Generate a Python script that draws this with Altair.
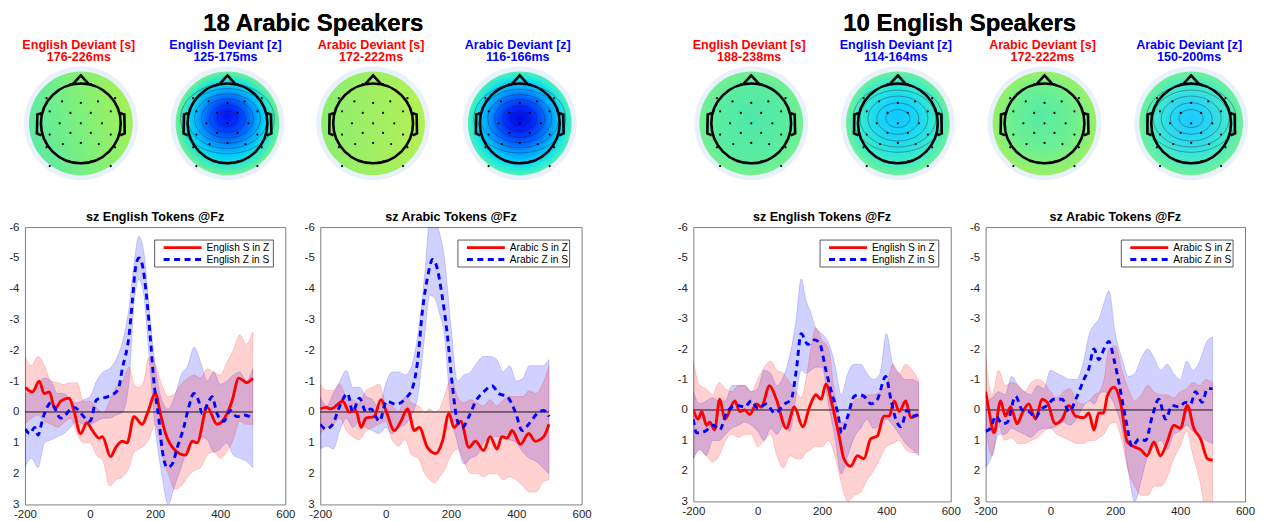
import altair as alt
import pandas as pd

FONT = "Liberation Sans"
RED = "#ff0000"
BLUE = "#0000ff"

# ---------------- text ----------------
GROUP_TITLES = ["18 Arabic Speakers", "10 English Speakers"]
TOPO_LINE1 = ["English Deviant [s]", "English Deviant [z]", "Arabic Deviant [s]", "Arabic Deviant [z]",
              "English Deviant [s]", "English Deviant [z]", "Arabic Deviant [s]", "Arabic Deviant [z]"]
TOPO_LINE2 = ["176-226ms", "125-175ms", "172-222ms", "116-166ms",
              "188-238ms", "114-164ms", "172-222ms", "150-200ms"]
TOPO_TEXT_COLORS = [RED, BLUE, RED, BLUE, RED, BLUE, RED, BLUE]
PANEL_TITLES = ["sz English Tokens @Fz", "sz Arabic Tokens @Fz", "sz English Tokens @Fz", "sz Arabic Tokens @Fz"]
LEGEND_LABELS = [("English S in Z", "English Z in S"), ("Arabic S in Z", "Arabic Z in S"),
                 ("English S in Z", "English Z in S"), ("Arabic S in Z", "Arabic Z in S")]

# axis ticks
X_TICKS = [-200, 0, 200, 400, 600]
Y_TICKS = [-6, -5, -4, -3, -2, -1, 0, 1, 2, 3]
ZERO_T = [-200, 500]
ZERO_V = [0, 0]

# ---------------- topomap data (head units: head radius = 1) ----------------
ELEC_X = [-0.26, 0.25, -0.86, -0.47, 0.0, 0.43, 0.86, -0.78, -0.26, 0.25, 0.75, -0.53, 0.0, 0.53,
          -0.78, -0.26, 0.25, 0.75, -0.45, 0.0, 0.45, -0.86, 0.86, -0.35, 0.25, -0.78, 0.75]
ELEC_Y = [0.98, 0.98, 0.63, 0.55, 0.51, 0.55, 0.63, 0.3, 0.26, 0.26, 0.3, 0.0, 0.0, 0.0,
          -0.28, -0.24, -0.24, -0.28, -0.52, -0.49, -0.52, -0.6, -0.6, -0.95, -0.95, -1.07, -1.07]


def rad(stops, cx=0.5, cy=0.45):
    return {"gradient": "radial", "x1": cx, "y1": cy, "r1": 0, "x2": 0.5, "y2": 0.5, "r2": 0.5,
            "stops": [{"offset": o, "color": c} for o, c in stops]}


def lin(stops, x1, y1, x2, y2):
    return {"gradient": "linear", "x1": x1, "y1": y1, "x2": x2, "y2": y2,
            "stops": [{"offset": o, "color": c} for o, c in stops]}


TOPO_FILLS = [
    lin([(0, "#5eeaa0"), (0.45, "#7ef07c"), (1, "#a8f052")], 0, 0.4, 1, 0.15),
    rad([(0, "#0a14e8"), (0.2, "#0030ff"), (0.4, "#0068ff"), (0.55, "#00a0ff"), (0.7, "#00d0f8"),
         (0.85, "#30e8c8"), (1, "#70f090")], cy=0.42),
    lin([(0, "#8cee70"), (1, "#b4f056")], 0, 0.5, 1, 0.5),
    rad([(0, "#0008e0"), (0.25, "#0028ff"), (0.45, "#0060ff"), (0.6, "#0098ff"), (0.75, "#00c8ff"),
         (0.88, "#20e8e0"), (1, "#50f0b0")], cy=0.45),
    rad([(0, "#4ee8ac"), (0.7, "#5aeca0"), (1, "#74f090")], cy=0.45),
    rad([(0, "#10c8ff"), (0.35, "#18d4f8"), (0.6, "#28e4e0"), (0.85, "#48ecc0"), (1, "#70f098")], cy=0.42),
    rad([(0, "#56eaa6"), (0.6, "#6cf092"), (1, "#9af068")], cx=0.45, cy=0.4),
    rad([(0, "#1cc8ff"), (0.4, "#2ad8f0"), (0.7, "#40e8d0"), (1, "#70f098")], cy=0.45),
]
CONTOUR_R = [[], [10, 18, 26, 33, 40, 47], [], [9, 17, 25, 32, 39, 46],
             [], [12, 21, 30, 38, 45], [], [12, 21, 30, 38, 45]]

HEAD_PATH = ("M 0 -1 A 1 1 0 1 1 0 1 A 1 1 0 1 1 0 -1 Z "
             "M -0.2 -0.98 L 0 -1.2 L 0.2 -0.98 "
             "M -0.99 -0.25 L -1.09 -0.22 L -1.1 0.25 L -0.99 0.3 "
             "M 0.99 -0.25 L 1.09 -0.22 L 1.1 0.25 L 0.99 0.3")
ELLIPSE_PATH = "M -1 0 A 1 0.75 0 1 1 1 0 A 1 0.75 0 1 1 -1 0 Z"

# ---------------- ERP data ----------------
BAND_T = [-200, -180, -160, -140, -120, -100, -80, -60, -40, -20, 0, 20, 40, 60, 80, 100,
          120, 135, 150, 165, 180,
          200, 220, 240, 260, 280, 300, 320, 340, 360, 380, 400, 420, 440, 460, 480, 500]

# Panel 1: Arabic speakers, English tokens
P1_RED_T = [-200, -177, -156, -141, -125, -108, -90, -64, -51, -29, -10, 7, 28, 38, 63, 79, 99, 114, 135, 160, 176,
            201, 216, 232, 262, 293, 314, 329, 360, 390, 421, 436, 457, 482, 500]
P1_RED_V = [-0.8, -0.65, -1.0, -0.6, -0.65, -0.1, -0.35, -0.45, -0.1, 0.7, 0.35, 0.6, 0.85, 0.8, 1.45, 1.15, 0.95, 1.0,
            0.15, 0.4, 0.05, -0.6, 0.05, 0.7, 1.25, 1.4, 0.95, 1.0, -0.15, 0.4, 0.05, -0.35, -1.1, -0.95, -1.1]
P1_BLUE_T = [-200, -185, -170, -160, -145, -120, -90, -50, 0, 20, 55, 85, 100, 120, 130, 140, 150, 160, 175, 186,
             196, 211, 222, 237, 252, 268, 288, 303, 319, 334, 344, 365, 375, 390, 411, 431, 451, 472, 500]
P1_BLUE_V = [0.55, 0.7, 0.5, 0.75, 0.2, -0.3, 0.2, -0.15, 0.3, -0.4, -0.5, -0.7, -1.45, -2.5, -3.6, -4.7, -5.0, -4.8,
             -3.6, -2.3, -1.0, 0.2, 1.25, 1.8, 1.7, 1.15, 0.5, -0.15, -0.6, -0.35, 0.05, -0.35, -0.5, 0.05, 0.3,
             -0.05, 0.15, 0.1, 0.2]
P1_RED_HI = [-1.8, -1.5, -1.8, -1.5, -1.0, -0.95, -0.9, -0.95, -0.95, -0.35, -0.35, -0.15, 0.05, -0.35, -0.8, -1.0,
             -1.45, -0.9, -0.8, -1.0, -1.75,
             -1.55, -0.9, -0.5, -0.6, -0.9, -1.1, -1.2, -1.1, -1.4, -1.3, -1.2, -1.6, -2.0, -2.5, -2.2, -2.6]
P1_RED_LO = [0.4, 0.2, 0.1, 0.3, 0.4, 0.5, 0.35, 0.2, 0.7, 1.0, 1.0, 1.4, 1.6, 2.4, 2.2, 2.1,
             1.8, 1.3, 1.2, 1.1, 0.9,
             0.4, 1.3, 2.0, 2.5, 2.4, 2.1, 1.9, 1.8, 1.4, 1.3, 1.5, 1.3, 0.9, 0.3, 0.4, 0.4]
P1_BLUE_HI = [-0.6, -0.6, -0.9, -1.1, -1.0, -0.6, -0.6, -0.4, -0.3, -0.4, -0.5, -1.0, -1.3, -1.4, -1.7, -2.3,
              -3.4, -4.8, -5.7, -5.2, -3.6,
              -1.5, -0.4, -0.1, -0.5, -1.2, -1.5, -2.1, -1.6, -1.0, -1.3, -0.9, -1.0, -1.2, -1.3, -1.0, -1.4]
P1_BLUE_LO = [1.8, 1.5, 1.8, 1.0, 0.9, 0.8, 0.7, 0.5, 0.3, 0.4, 0.4, 0.3, 0.2, 0.2, 0.1, 0.0,
              -1.0, -3.5, -4.3, -3.8, -2.0,
              0.5, 2.0, 3.0, 2.4, 1.8, 1.2, 1.0, 0.8, 0.9, 1.3, 1.2, 1.0, 1.4, 1.5, 1.6, 1.8]

# Panel 2: Arabic speakers, Arabic tokens
P2_RED_T = [-200, -183, -167, -131, -111, -91, -75, -60, -35, -14, 1, 27, 47, 67, 88, 103, 128, 154, 174, 194, 209,
            230, 255, 275, 300, 320, 341, 356, 372, 387, 413, 438, 458, 484, 500]
P2_RED_V = [-0.1, -0.15, -0.1, -0.35, 0.0, -0.05, 0.5, 0.2, 0.15, -0.4, -0.05, 0.6, 0.3, -0.1, 0.6, 0.5, 1.15, 1.35,
            0.95, 0.05, 0.5, 0.3, 1.15, 0.95, 1.25, 0.8, 1.2, 0.8, 0.85, 0.6, 1.05, 0.7, 0.95, 0.8, 0.4]
P2_BLUE_T = [-200, -183, -162, -142, -116, -101, -80, -60, -45, -19, 3, 32, 62, 83, 98, 113, 128, 144, 154, 174,
             189, 205, 220, 235, 255, 276, 300, 326, 346, 372, 397, 418, 438, 464, 484, 500]
P2_BLUE_V = [0.4, 0.55, 0.4, -0.15, -0.6, 0.0, -0.45, 0.0, -0.1, 0.3, -0.35, -0.25, -0.45, -0.8, -1.65, -3.3, -4.35,
             -4.95, -4.8, -3.7, -2.5, -0.8, 0.3, 0.5, 0.15, -0.35, -0.65, -0.85, -0.6, -0.5, 0.0, 0.6, 0.4, 0.05,
             -0.05, 0.15]
P2_RED_HI = [-0.9, -0.7, -0.7, -0.9, -0.5, -0.4, -0.3, -0.7, -0.8, -0.9, -0.3, -0.2, 0.0, -0.5, -0.3, -0.2,
             0.0, -0.1, 0.0, -0.1, -0.5,
             -1.1, -0.5, -0.3, -0.4, -0.3, -0.2, -0.4, -0.2, -0.4, -0.5, -0.5, -0.5, -0.7, -0.6, -0.9, -1.5]
P2_RED_LO = [0.7, 0.5, 0.4, 0.2, 0.6, 0.8, 0.9, 0.6, 0.5, 0.4, 0.3, 0.9, 1.1, 0.9, 1.4, 1.5,
             2.0, 2.2, 2.3, 2.1, 1.9,
             1.4, 1.2, 1.6, 2.0, 2.0, 2.1, 2.0, 2.0, 2.2, 2.1, 2.2, 2.4, 2.6, 2.6, 2.3, 2.2]
P2_BLUE_HI = [-0.5, -0.2, -0.6, -1.0, -1.35, -0.8, -0.8, -0.5, -0.4, -0.1, -0.9, -1.3, -1.3, -1.2, -1.5, -2.6,
              -4.5, -6.2, -6.3, -5.8, -5.0,
              -2.8, -1.0, -1.2, -1.3, -1.6, -1.8, -1.8, -1.7, -1.3, -1.5, -1.0, -1.1, -1.5, -1.5, -1.5, -1.7]
P2_BLUE_LO = [1.2, 1.1, 1.2, 0.6, 0.2, 0.5, 0.3, 0.5, 0.6, 0.7, 0.5, 0.7, 0.5, 0.4, 0.1, -0.6,
              -2.5, -3.8, -3.7, -3.2, -2.5,
              0.0, 1.0, 1.7, 1.5, 1.4, 1.0, 0.8, 0.8, 0.8, 0.9, 1.0, 1.3, 1.5, 1.6, 1.8, 2.0]

# Panel 3: English speakers, English tokens
P3_RED_T = [-200, -185, -174, -159, -149, -134, -118, -102, -71, -56, -40, -25, -4, 11, 37, 58, 89, 114, 140, 161,
            181, 197, 212, 233, 253, 268, 289, 310, 330, 351, 372, 392, 409, 424, 440, 460, 476, 500]
P3_RED_V = [0.0, 0.3, 0.05, 0.5, 0.4, 0.65, -0.35, 0.3, -0.3, 0.05, 0.0, 0.15, -0.2, -0.1, -0.8, -0.35, 0.6, -0.1,
            0.55, -0.1, -0.5, -0.35, -0.85, -0.1, 0.85, 1.6, 1.85, 1.5, 1.6, 0.95, 0.85, 0.2, 0.2, -0.3, 0.05,
            -0.3, 0.25, 0.15]
P3_BLUE_T = [-200, -190, -164, -138, -118, -97, -66, -40, -20, 1, 27, 53, 84, 104, 120, 135, 156, 176, 192, 212,
             233, 249, 261, 280, 300, 316, 336, 352, 372, 398, 414, 429, 445, 465, 481, 500]
P3_BLUE_V = [0.3, 0.75, 0.7, 0.5, 0.65, 0.1, -0.15, -0.1, -0.3, -0.05, -0.2, 0.1, -0.2, -0.35, -1.3, -2.5, -2.15,
             -2.3, -2.2, -1.3, -0.45, 0.1, 0.75, 0.2, -0.45, -0.5, -0.4, -0.2, -0.35, -1.1, -0.35, 0.3, 0.55, 0.0,
             0.2, 0.15]
P3_RED_HI = [-1.6, -0.8, -0.7, -0.5, -0.9, -0.7, -0.6, -0.8, -0.8, -0.6, -1.0, -1.4, -1.6, -1.3, -1.2, -0.9,
             -0.6, -0.4, -1.0, -2.0, -2.7,
             -2.3, -2.0, -0.5, 0.4, 0.3, -0.3, -0.4, -0.5, -0.5, -0.6, -0.8, -1.5, -1.2, -1.5, -1.3, -1.0]
P3_RED_LO = [1.6, 1.3, 1.5, 1.7, 1.5, 1.0, 0.8, 0.9, 0.8, 0.8, 1.2, 1.0, 0.8, 1.5, 1.9, 1.5,
             1.6, 1.6, 1.4, 1.3, 1.2,
             1.2, 1.0, 1.5, 2.4, 3.0, 2.8, 2.7, 2.3, 2.0, 1.6, 1.2, 1.1, 1.0, 1.3, 1.4, 1.4]
P3_BLUE_HI = [-0.6, -0.2, -0.3, -0.4, -0.3, -0.3, -0.8, -0.8, -0.8, -0.6, -0.7, -1.3, -1.2, -0.8, -1.1, -1.8,
              -3.0, -4.3, -3.6, -3.2, -2.7,
              -2.5, -2.2, -1.5, -0.5, -1.2, -1.5, -1.5, -1.2, -1.0, -1.2, -2.5, -1.5, -1.2, -1.0, -1.0, -0.9]
P3_BLUE_LO = [1.6, 1.3, 1.5, 1.0, 1.0, 0.8, 0.6, 0.5, 0.4, 0.5, 0.7, 1.0, 0.6, 0.8, 0.5, 0.7,
              -0.5, -1.3, -1.2, -1.3, -1.4,
              -1.4, -0.2, 0.9, 2.1, 1.5, 0.9, 0.6, 0.3, 0.6, 0.5, 0.3, 0.5, 0.8, 1.1, 1.3, 1.5]

# Panel 4: English speakers, Arabic tokens
P4_RED_T = [-200, -190, -174, -154, -139, -123, -103, -87, -67, -46, -26, -10, 15, 36, 57, 77, 103, 118, 134, 149,
            164, 175, 196, 216, 237, 257, 278, 298, 319, 339, 360, 380, 401, 422, 442, 463, 484, 500]
P4_RED_V = [-0.6, 0.0, 0.75, -0.3, 0.2, -0.1, 0.45, 0.1, -0.2, 0.3, -0.35, -0.25, 0.45, 0.3, -0.15, 0.2, 0.25, 0.1,
            0.65, 0.1, 0.1, -0.45, -0.75, -0.25, 1.05, 1.2, 1.3, 1.5, 1.05, 1.5, 1.05, 0.5, 0.6, -0.15, 0.6, 0.95,
            1.6, 1.65]
P4_BLUE_T = [-200, -185, -169, -149, -133, -108, -87, -67, -46, -31, -10, 10, 36, 57, 82, 103, 118, 134, 149, 165,
             180, 196, 211, 232, 252, 273, 293, 314, 334, 355, 375, 396, 416, 432, 447, 468, 484, 500]
P4_BLUE_V = [0.7, 0.6, 0.2, 0.45, 0.4, -0.45, 0.0, 0.05, 0.25, 0.0, -0.15, -0.35, -0.35, 0.05, -0.45, -1.0, -1.35,
             -2.0, -1.65, -2.0, -2.25, -1.65, -0.9, 0.3, 1.2, 0.95, 1.0, 0.2, -0.35, 0.3, -0.15, -0.1, -0.25, -0.2,
             -0.6, -0.25, -0.7, -0.7]
P4_RED_HI = [-1.7, -0.5, -1.3, -0.8, -0.9, -0.8, -0.6, -0.9, -1.0, -0.9, -0.6, -0.4, -0.6, -0.7, -0.3, -0.2,
             -0.3, -0.5, -0.6, -1.0, -2.0,
             -2.1, -1.3, -0.7, -0.3, -0.5, -0.8, -0.6, -0.5, -0.5, -0.4, -0.6, -0.7, -0.9, -0.8, -1.0, -0.9]
P4_RED_LO = [0.6, 1.5, 0.5, 1.0, 0.9, 1.1, 1.1, 1.0, 0.9, 0.7, 0.6, 0.8, 0.9, 1.0, 1.1, 1.1,
             1.0, 1.0, 0.9, 0.8, 0.5,
             0.4, 1.0, 2.0, 2.5, 2.8, 2.8, 2.5, 2.5, 2.2, 1.6, 1.2, 0.7, 1.5, 2.3, 3.3, 3.5]
P4_BLUE_HI = [-0.3, -0.4, -0.6, -0.5, -1.1, -0.8, -0.6, -0.5, -0.8, -0.7, -1.3, -1.2, -1.1, -1.0, -1.0, -1.5,
              -2.5, -2.8, -3.0, -3.5, -3.9,
              -2.5, -1.7, -1.1, -1.2, -1.7, -2.0, -1.7, -1.3, -1.5, -1.2, -1.0, -1.6, -1.3, -1.6, -2.2, -2.4]
P4_BLUE_LO = [1.9, 1.5, 0.8, 0.8, 0.6, 0.7, 0.8, 0.9, 0.7, 0.6, 0.6, 0.5, 0.4, 0.5, 0.3, -0.1,
              -0.3, -0.2, -0.5, -0.6, -0.5,
              -0.1, 0.6, 2.0, 3.0, 2.3, 1.5, 1.2, 1.0, 1.3, 0.8, 0.7, 0.5, 0.7, 0.8, 1.0, 1.1]

PANELS = [
    (P1_RED_T, P1_RED_V, P1_BLUE_T, P1_BLUE_V, P1_RED_LO, P1_RED_HI, P1_BLUE_LO, P1_BLUE_HI),
    (P2_RED_T, P2_RED_V, P2_BLUE_T, P2_BLUE_V, P2_RED_LO, P2_RED_HI, P2_BLUE_LO, P2_BLUE_HI),
    (P3_RED_T, P3_RED_V, P3_BLUE_T, P3_BLUE_V, P3_RED_LO, P3_RED_HI, P3_BLUE_LO, P3_BLUE_HI),
    (P4_RED_T, P4_RED_V, P4_BLUE_T, P4_BLUE_V, P4_RED_LO, P4_RED_HI, P4_BLUE_LO, P4_BLUE_HI),
]

# ---------------- layout ----------------
PANEL_W = [261, 262, 258, 260]
PANEL_H = [278, 278, 275, 275]
TOPO_H = 112
PX_PER_UNIT = 40.0          # head radius in pixels
HEAD_STEP = 147 / PX_PER_UNIT
PAIR_FIRST_PX = [56, 53, 58, 59]   # first head centre inside each pair strip
NOSTROKE = alt.ViewBackground(stroke="transparent")


def pair(gi):
    W = PANEL_W[gi]
    x0 = -PAIR_FIRST_PX[gi] / PX_PER_UNIT
    xs = alt.Scale(domain=[x0, x0 + W / PX_PER_UNIT], nice=False, zero=False)
    ys = alt.Scale(domain=[-1.4, 1.4], nice=False, zero=False)
    X = alt.X("x:Q", scale=xs, axis=None)
    Y = alt.Y("y:Q", scale=ys, axis=None)
    idx = [2 * gi, 2 * gi + 1]
    centers = pd.DataFrame({"x": [0.0, HEAD_STEP], "y": [0.0, 0.0],
                            "l1": [TOPO_LINE1[i] for i in idx], "l2": [TOPO_LINE2[i] for i in idx],
                            "c": [TOPO_TEXT_COLORS[i] for i in idx]})
    base = alt.Chart(centers).encode(x=X, y=Y)
    layers = [base.mark_point(shape="circle", filled=True, size=12996, color="#e9f1fc", opacity=1,
                              strokeWidth=0)]
    for j, i in enumerate(idx):
        one = pd.DataFrame({"x": [HEAD_STEP * j], "y": [0.0]})
        layers.append(alt.Chart(one).mark_point(shape="circle", filled=True, size=10816, fill=TOPO_FILLS[i],
                                                opacity=1, strokeWidth=0).encode(x=X, y=Y))
        if CONTOUR_R[i]:
            cdf = pd.DataFrame({"x": [HEAD_STEP * j] * len(CONTOUR_R[i]), "y": [0.12] * len(CONTOUR_R[i]),
                                "s": [(2 * r) ** 2 for r in CONTOUR_R[i]]})
            layers.append(alt.Chart(cdf).mark_point(shape=ELLIPSE_PATH, filled=False, stroke="#1a1a1a",
                                                    strokeWidth=0.6, opacity=0.6)
                          .encode(x=X, y=Y, size=alt.Size("s:Q", scale=None, legend=None)))
    edf = pd.DataFrame({"x": ELEC_X + [e + HEAD_STEP for e in ELEC_X], "y": ELEC_Y + ELEC_Y})
    layers.append(alt.Chart(edf).mark_point(shape="circle", filled=True, size=5, color="black", opacity=1)
                  .encode(x=X, y=Y))
    layers.append(base.mark_point(shape=HEAD_PATH, filled=False, size=6400, stroke="black",
                                  strokeWidth=2.6, opacity=1))
    tstyle = dict(font=FONT, fontSize=12.6, fontWeight="bold", align="center", baseline="alphabetic", dx=-2)
    layers.append(base.mark_text(**tstyle).encode(y=alt.value(-19), text="l1:N",
                                                   color=alt.Color("c:N", scale=None)))
    layers.append(base.mark_text(**tstyle).encode(y=alt.value(-6), text="l2:N",
                                                   color=alt.Color("c:N", scale=None)))
    if gi in (0, 2):
        g = gi // 2
        gx = 289 if gi == 0 else 267
        layers.append(base.mark_text(text=GROUP_TITLES[g], font=FONT, fontSize=24, fontWeight="bold",
                                     align="center", baseline="alphabetic", color="black")
                      .encode(x=alt.value(gx), y=alt.value(-37)))
    return alt.layer(*layers).properties(width=W, height=TOPO_H, view=NOSTROKE)


def spacer(w, h):
    return alt.Chart(pd.DataFrame({"a": [0]})).mark_point(opacity=0).encode(
        x=alt.value(0), y=alt.value(0)).properties(width=w, height=h, view=NOSTROKE)


def panel(k):
    rt, rv, bt, bv, rlo, rhi, blo, bhi = PANELS[k]
    W, H = PANEL_W[k], PANEL_H[k]
    xs = alt.Scale(domain=[-200, 600], nice=False, zero=False)
    ys = alt.Scale(domain=[-6, 3], reverse=True, nice=False, zero=False)
    xax = alt.Axis(values=X_TICKS, title=None, ticks=False, domain=False, grid=False,
                   labelFont=FONT, labelFontSize=11.5, labelColor="#262626", labelPadding=4,
                   labelFlush=False, labelOverlap=False, labelExpr="'' + datum.value")
    yax = alt.Axis(values=Y_TICKS, title=None, ticks=False, domain=False, grid=False,
                   labelFont=FONT, labelFontSize=11.5, labelColor="#262626", labelPadding=6,
                   labelOverlap=False, labelExpr="'' + datum.value")
    X = alt.X("t:Q", scale=xs, axis=xax)
    red_band = pd.DataFrame({"t": BAND_T, "lo": rlo, "hi": rhi})
    blue_band = pd.DataFrame({"t": BAND_T, "lo": blo, "hi": bhi})
    red = pd.DataFrame({"t": rt, "v": rv})
    blue = pd.DataFrame({"t": bt, "v": bv})
    zdf = pd.DataFrame({"t": ZERO_T, "v": ZERO_V})
    one = pd.DataFrame({"a": [0]})

    def band(df, c):
        return alt.Chart(df).mark_area(color=c, fillOpacity=0.18, stroke=c, strokeOpacity=0.28,
                                       strokeWidth=0.6, interpolate="monotone", clip=True).encode(
            x=X, y=alt.Y("lo:Q", scale=ys, axis=yax), y2="hi:Q")

    zero = alt.Chart(zdf).mark_line(color="black", strokeWidth=0.9).encode(
        x=X, y=alt.Y("v:Q", scale=ys, axis=yax))
    red_line = alt.Chart(red).mark_line(color=RED, strokeWidth=2.9, interpolate="monotone", clip=True).encode(
        x=X, y=alt.Y("v:Q", scale=ys, axis=yax))
    blue_line = alt.Chart(blue).mark_line(color=BLUE, strokeWidth=2.9, strokeDash=[6, 4.5],
                                          interpolate="monotone", clip=True).encode(
        x=X, y=alt.Y("v:Q", scale=ys, axis=yax))

    l1, l2 = LEGEND_LABELS[k]
    bw = 119 if l1.startswith("English") else 112
    right = W - 12
    left = right - bw
    box = alt.Chart(one).mark_rect(fill="white", stroke="#333333", strokeWidth=0.8).encode(
        x=alt.value(left), x2=alt.value(right), y=alt.value(13), y2=alt.value(40))
    s1 = alt.Chart(one).mark_rule(color=RED, strokeWidth=2.8).encode(
        x=alt.value(left + 9), x2=alt.value(left + 47), y=alt.value(20.5))
    s2 = alt.Chart(one).mark_rule(color=BLUE, strokeWidth=2.8, strokeDash=[6, 4.5]).encode(
        x=alt.value(left + 9), x2=alt.value(left + 47), y=alt.value(32.5))
    tst = dict(font=FONT, fontSize=10.2, align="left", baseline="middle", color="black")
    t1 = alt.Chart(one).mark_text(text=l1, **tst).encode(x=alt.value(left + 52), y=alt.value(20.5))
    t2 = alt.Chart(one).mark_text(text=l2, **tst).encode(x=alt.value(left + 52), y=alt.value(32.5))

    return alt.layer(band(blue_band, BLUE), band(red_band, RED), zero, red_line, blue_line,
                     box, s1, s2, t1, t2).properties(
        width=W, height=H,
        title=alt.TitleParams(text=PANEL_TITLES[k], font=FONT, fontSize=12.6, fontWeight="bold",
                              color="black", anchor="middle", offset=-2))


charts = [pair(0), pair(1), spacer(42, TOPO_H), pair(2), pair(3),
          panel(0), panel(1), spacer(42, 10), panel(2), panel(3)]

chart = alt.ConcatChart(concat=charts, columns=5, spacing={"row": 48, "column": 35},
                        bounds="flush", align="each").resolve_scale(
    x="independent", y="independent").properties(
    padding={"left": 0, "top": 2, "right": 0, "bottom": 0}
).configure_view(stroke="#808080", strokeWidth=1)

chart.save("out.html", embed_options={"renderer": "svg", "actions": False})
